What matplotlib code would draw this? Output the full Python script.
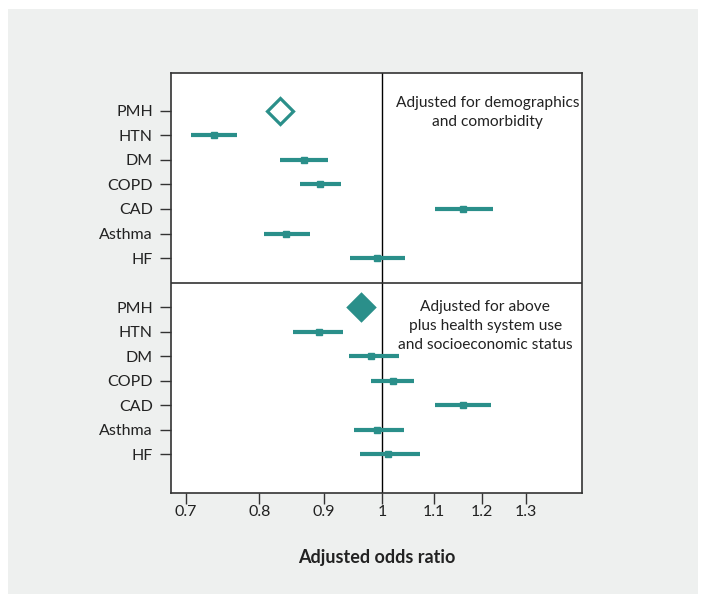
import numpy as np
import matplotlib.pyplot as plt
from matplotlib.patches import Rectangle
from matplotlib.ticker import FixedLocator, NullLocator

plt.rcParams['font.family'] = ['Lato', 'DejaVu Sans']

# Conditions (same order in both panels)
labels = ["PMH", "HTN", "DM", "COPD", "CAD", "Asthma", "HF"]

# Panel 1: adjusted for demographics and comorbidity
or_1 = [0.831, 0.736, 0.868, 0.894, 1.160, 0.840, 0.991]
lo_1 = [None, 0.706, 0.830, 0.861, 1.102, 0.807, 0.944]
hi_1 = [None, 0.768, 0.906, 0.928, 1.225, 0.877, 1.043]

# Panel 2: adjusted for above plus health system use and SES
or_2 = [0.962, 0.891, 0.981, 1.021, 1.160, 0.991, 1.011]
lo_2 = [None, 0.851, 0.942, 0.981, 1.102, 0.951, 0.961]
hi_2 = [None, 0.931, 1.031, 1.061, 1.221, 1.041, 1.071]

xticks = [0.7, 0.8, 0.9, 1, 1.1, 1.2, 1.3]
xtick_labels = ["0.7", "0.8", "0.9", "1", "1.1", "1.2", "1.3"]

teal = "#2a8f8a"
dark = "#333333"

fig = plt.figure(figsize=(7.07, 6.03), dpi=100)
bg = Rectangle((8 / 707, 9 / 603), 690 / 707, 585 / 603,
               transform=fig.transFigure, facecolor="#eef0ef",
               edgecolor="none", zorder=-10)
fig.add_artist(bg)

ax = fig.add_axes([171 / 707, 110 / 603, 411 / 707, 420 / 603])
ax.set_facecolor("white")

y1 = np.arange(len(labels))
y2 = y1 + len(labels) + 1

for ys, vals, lo, hi, filled in [(y1, or_1, lo_1, hi_1, False),
                                 (y2, or_2, lo_2, hi_2, True)]:
    # pooled estimate as a diamond
    ax.plot(vals[0], ys[0], marker="D", markersize=13.5,
            markerfacecolor=teal if filled else "white",
            markeredgecolor=teal, markeredgewidth=2.3, linestyle="none", zorder=4)
    v = np.array(vals[1:])
    l = np.array(lo[1:])
    h = np.array(hi[1:])
    ax.errorbar(v, ys[1:], xerr=[v - l, h - v], fmt="s", color=teal,
                markersize=5, elinewidth=3, capsize=0, zorder=3)

ax.axvline(1, color="black", linewidth=1, zorder=2)
ax.axhline(len(labels), color=dark, linewidth=1.2, zorder=2)

ax.set_xscale("log")
ax.set_xlim(0.681, 1.44)
ax.xaxis.set_major_locator(FixedLocator(xticks))
ax.xaxis.set_minor_locator(NullLocator())
ax.set_xticklabels(xtick_labels)

ax.set_ylim(2 * len(labels) + 1.59, -1.55)
ax.set_yticks(list(y1) + list(y2))
ax.set_yticklabels(labels + labels)

ax.tick_params(axis="both", direction="out", length=8, width=1, color=dark,
               labelsize=11.5, labelcolor="#222222")
ax.tick_params(axis="x", pad=1)
ax.tick_params(axis="y", pad=5)
for s in ax.spines.values():
    s.set_color(dark)
    s.set_linewidth(1.2)

ax.text(1.213, -0.62, "Adjusted for demographics\nand comorbidity", ha="center",
        va="top", fontsize=11.2, color="#222222", linespacing=1.45)
ax.text(1.207, 7.72, "Adjusted for above\nplus health system use\nand socioeconomic status",
        ha="center", va="top", fontsize=11.2, color="#222222", linespacing=1.45)

ax.set_xlabel("Adjusted odds ratio", fontsize=13, fontweight="bold",
              color="#222222", labelpad=21)

fig.savefig("out.png", dpi=100, facecolor="white")
